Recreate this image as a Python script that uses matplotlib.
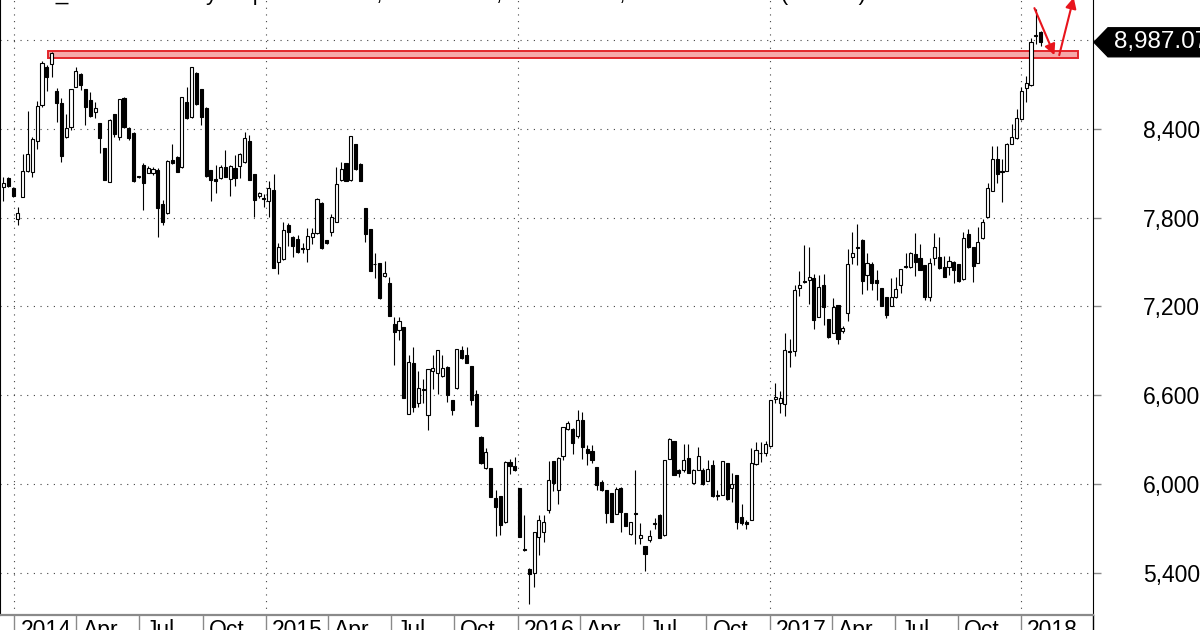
"""Weekly candlestick chart with resistance band and projection arrows."""

import matplotlib
matplotlib.use("Agg")
import matplotlib.pyplot as plt
import matplotlib.dates as mdates
from matplotlib.patches import Rectangle, Polygon
from matplotlib.transforms import ScaledTranslation, IdentityTransform
import pandas as pd

plt.rcParams["font.family"] = ["Liberation Sans", "DejaVu Sans"]

# weekly bars, first week starts 2013-12-16
first_week = "2013-12-16"

opens = [
    8005, 8071, 7999, 7789, 7942, 8118, 8107, 8321, 8562, 8817, 8840, 8657, 8578, 8344, 8411, 8686,
    8770, 8668, 8596, 8517, 8438, 8269, 8044, 8501, 8344, 8607, 8409, 8375, 8082, 8154, 8105, 8100,
    8123, 7893, 7829, 8190, 8213, 8141, 8580, 8479, 8781, 8668, 8544, 8123, 8062, 8066, 8141, 8059,
    8138, 8150, 8179, 8321, 8093, 7949, 7931, 7913, 7987, 7498, 7518, 7751, 7672, 7654, 7595, 7586,
    7672, 7694, 7897, 7649, 7706, 7773, 8055, 8168, 8055, 8299, 8163, 7863, 7724, 7489, 7491, 7406,
    7356, 7079, 7040, 7058, 6472, 6819, 6544, 6643, 6465, 6765, 6752, 6729, 6792, 6567, 6646, 6905,
    6871, 6797, 6607, 6319, 6104, 6104, 5906, 5917, 5744, 6145, 6123, 5972, 5558, 5427, 5398, 5641,
    5675, 5826, 6153, 5961, 6187, 6374, 6374, 6322, 6435, 6239, 6221, 6115, 6013, 5957, 5939, 5799,
    5975, 5803, 5664, 5801, 5637, 5580, 5619, 5729, 5792, 5652, 6171, 6291, 6097, 6092, 6178, 6006,
    6097, 6097, 6020, 6126, 5925, 5928, 6142, 5975, 6058, 5776, 5743, 5758, 6137, 6212, 6209, 6254,
    6576, 6544, 6540, 6896, 6901, 7322, 7370, 7379, 7390, 7131, 7345, 7113, 7022, 7210, 7034, 7153,
    7537, 7600, 7649, 7413, 7487, 7379, 7322, 7262, 7203, 7262, 7345, 7471, 7464, 7555, 7525, 7480,
    7266, 7525, 7537, 7469, 7469, 7503, 7487, 7383, 7690, 7600, 7496, 7661, 7805, 7981, 8200, 8116,
    8116, 8301, 8342, 8470, 8680, 8696, 9027, 9057,
]
highs = [
    8078, 8078, 8010, 7874, 8231, 8522, 8348, 8589, 8862, 8833, 8923, 8680, 8607, 8501, 8670, 8817,
    8777, 8670, 8652, 8585, 8440, 8270, 8465, 8503, 8605, 8619, 8416, 8377, 8085, 8168, 8150, 8140,
    8134, 7920, 8190, 8298, 8215, 8616, 8686, 8822, 8783, 8670, 8546, 8125, 8156, 8156, 8258, 8154,
    8224, 8235, 8382, 8359, 8095, 7976, 7960, 8048, 8093, 7627, 7773, 7762, 7674, 7683, 7627, 7728,
    7728, 7931, 7909, 7651, 7825, 8141, 8179, 8170, 8355, 8301, 8172, 7865, 7726, 7559, 7493, 7509,
    7401, 7131, 7131, 7060, 6871, 6928, 6765, 6707, 6776, 6871, 6907, 6871, 6795, 6570, 6912, 6932,
    6928, 6799, 6634, 6321, 6240, 6106, 5958, 5919, 6152, 6165, 6184, 5975, 5792, 5430, 5677, 5788,
    5788, 6153, 6155, 6180, 6387, 6426, 6376, 6498, 6487, 6261, 6261, 6117, 6029, 5959, 5941, 5979,
    5977, 5806, 5745, 6092, 5736, 5582, 5686, 5772, 5794, 6162, 6308, 6293, 6103, 6273, 6273, 6099,
    6250, 6110, 6160, 6160, 5957, 6155, 6144, 6074, 6060, 5867, 5754, 6243, 6284, 6284, 6291, 6568,
    6684, 6630, 7018, 6977, 7345, 7442, 7616, 7600, 7419, 7413, 7419, 7115, 7255, 7212, 7068, 7586,
    7706, 7758, 7654, 7564, 7503, 7446, 7325, 7264, 7395, 7397, 7453, 7564, 7566, 7694, 7622, 7482,
    7525, 7694, 7667, 7541, 7541, 7505, 7489, 7706, 7722, 7602, 7740, 7790, 8035, 8283, 8283, 8200,
    8306, 8437, 8538, 8685, 8757, 9018, 9215, 9064,
]
lows = [
    7915, 8010, 7942, 7750, 7940, 8111, 8073, 8262, 8547, 8659, 8754, 8450, 8179, 8337, 8393, 8682,
    8664, 8427, 8479, 8472, 8235, 8053, 8040, 8348, 8326, 8410, 8326, 8044, 8066, 7852, 8100, 8089,
    7667, 7750, 7827, 8163, 8109, 8134, 8470, 8475, 8562, 8427, 8077, 7915, 7969, 8059, 8075, 7947,
    8014, 8066, 8172, 8053, 7807, 7931, 7875, 7807, 7460, 7419, 7515, 7609, 7536, 7564, 7559, 7503,
    7620, 7692, 7590, 7622, 7676, 7770, 8048, 8046, 8051, 8125, 8046, 7638, 7440, 7390, 7253, 7401,
    7133, 6804, 6973, 6581, 6470, 6488, 6522, 6549, 6364, 6639, 6607, 6725, 6556, 6465, 6643, 6842,
    6815, 6533, 6389, 6136, 6098, 5911, 5647, 5654, 5733, 6066, 6086, 5640, 5546, 5186, 5303, 5517,
    5607, 5804, 5952, 5867, 6164, 6363, 6200, 6313, 6171, 6130, 6142, 5957, 5952, 5736, 5741, 5797,
    5675, 5713, 5652, 5596, 5592, 5411, 5607, 5698, 5635, 5648, 6169, 6061, 6047, 6081, 6072, 6002,
    6095, 5995, 6018, 5914, 5889, 5926, 5889, 5878, 5698, 5720, 5698, 5756, 6126, 6149, 6187, 6250,
    6544, 6477, 6459, 6793, 6865, 7271, 7356, 7216, 7045, 7126, 7074, 6989, 7018, 6946, 7018, 7104,
    7487, 7480, 7282, 7311, 7311, 7244, 7200, 7119, 7201, 7255, 7293, 7458, 7458, 7406, 7444, 7244,
    7239, 7480, 7451, 7397, 7413, 7356, 7368, 7379, 7593, 7368, 7492, 7654, 7803, 7979, 8035, 7907,
    8114, 8297, 8335, 8464, 8583, 8689, 8973, 8960,
]
closes = [
    8037, 8017, 7947, 7834, 8118, 8229, 8330, 8555, 8849, 8754, 8916, 8578, 8217, 8409, 8668, 8795,
    8698, 8551, 8488, 8540, 8337, 8055, 8461, 8366, 8601, 8411, 8337, 8050, 8073, 8032, 8134, 8127,
    7863, 7773, 8186, 8168, 8111, 8614, 8472, 8817, 8569, 8483, 8084, 8055, 8050, 8145, 8077, 8152,
    8066, 8231, 8337, 8055, 7920, 7965, 7924, 7999, 7462, 7604, 7717, 7706, 7609, 7570, 7591, 7679,
    7694, 7929, 7593, 7627, 7807, 8026, 8127, 8048, 8353, 8127, 8051, 7690, 7442, 7485, 7255, 7424,
    7135, 7025, 7104, 6583, 6826, 6517, 6646, 6634, 6774, 6781, 6905, 6781, 6601, 6499, 6910, 6849,
    6819, 6567, 6391, 6138, 6213, 5913, 5841, 5721, 6150, 6120, 6093, 5641, 5553, 5393, 5675, 5754,
    5743, 6029, 6006, 6178, 6385, 6415, 6277, 6430, 6250, 6209, 6160, 5991, 5957, 5803, 5743, 5968,
    5810, 5716, 5743, 5797, 5657, 5524, 5646, 5734, 5637, 6160, 6306, 6063, 6074, 6160, 6074, 6097,
    6187, 5997, 6103, 5916, 5921, 6153, 5900, 5997, 5743, 5736, 5731, 6142, 6232, 6207, 6268, 6566,
    6590, 6578, 6905, 6892, 7311, 7345, 7365, 7397, 7108, 7334, 7198, 6991, 7198, 6977, 7056, 7487,
    7564, 7595, 7374, 7496, 7356, 7356, 7203, 7142, 7266, 7316, 7451, 7467, 7564, 7503, 7446, 7266,
    7492, 7604, 7458, 7401, 7510, 7446, 7374, 7661, 7600, 7474, 7638, 7773, 8001, 8200, 8098, 8112,
    8301, 8346, 8477, 8658, 8712, 8989, 9039, 8987.07,
]

price_levels = [5400, 6000, 6600, 7200, 7800, 8400, 9000]
quarter_starts = pd.date_range("2014-01-01", "2018-01-01", freq="QS")
year_starts = pd.date_range("2014-01-01", "2018-01-01", freq="YS")

# resistance band and projection arrows
band_start, band_end = "2014-02-18", "2018-03-24"
band_low, band_high = 8878, 8925
arrow_down = [("2018-01-20", 9218), ("2018-02-18", 8900)]
arrow_up = [("2018-02-25", 8900), ("2018-03-18", 9290)]

title = "JSE_TOP40 Weekly   Open {:.2f}, Hi {:.2f}, Lo {:.2f}, Close {:.2f} (-0.77%)"

assert len(opens) == len(highs) == len(lows) == len(closes) == 216


def main() -> None:
    weeks = pd.date_range(first_week, periods=len(opens), freq="W-MON")
    x = mdates.date2num(weeks)

    fig = plt.figure(figsize=(12, 6.3), dpi=100)
    ax = fig.add_axes([0.0, 15 / 630, 1093 / 1200, 615 / 630])

    ax.set_xlim(mdates.date2num(pd.Timestamp("2013-12-11")), mdates.date2num(pd.Timestamp("2018-04-15")))
    ax.set_ylim(5113, 9273)

    # dotted grid
    for lvl in price_levels:
        ax.axhline(lvl, color="#444444", lw=0.8, ls=(0, (1, 5)), zorder=1)
    for ys in year_starts:
        ax.axvline(mdates.date2num(ys), color="#444444", lw=0.8, ls=(0, (1, 5)), zorder=1)

    # resistance band
    b0 = mdates.date2num(pd.Timestamp(band_start))
    b1 = mdates.date2num(pd.Timestamp(band_end))
    ax.add_patch(Rectangle((b0, band_low), b1 - b0, band_high - band_low,
                           facecolor="#f6a9a9", edgecolor="#e3262b", lw=1.4, zorder=2))

    # candles
    body_w = 4.5
    ax.vlines(x, lows, highs, color="black", lw=0.8, zorder=3)
    for xi, o, c in zip(x, opens, closes):
        up = c >= o
        lo, hi = min(o, c), max(o, c)
        ax.add_patch(Rectangle((xi - body_w / 2, lo), body_w, max(hi - lo, 1),
                               facecolor="white" if up else "black",
                               edgecolor="black", lw=0.8, zorder=4))

    # arrows
    for (d0, p0), (d1, p1) in (arrow_down, arrow_up):
        ax.annotate("", xy=(mdates.date2num(pd.Timestamp(d1)), p1),
                    xytext=(mdates.date2num(pd.Timestamp(d0)), p0),
                    arrowprops=dict(arrowstyle="-|>", color="#e8141c", lw=1.5,
                                    mutation_scale=16, shrinkA=0, shrinkB=0),
                    annotation_clip=False, zorder=5)

    # spines
    ax.spines["top"].set_visible(False)
    ax.spines["left"].set_color("black")
    ax.spines["right"].set_color("black")
    ax.spines["bottom"].set_color("#8a8a8a")
    ax.spines["bottom"].set_linewidth(1.6)

    # x axis labels between separators
    ax.set_xticks(mdates.date2num(quarter_starts))
    ax.set_xticklabels([str(d.year) if d.month == 1 else d.strftime("%b") for d in quarter_starts])
    ax.tick_params(axis="x", length=0, pad=3, labelsize=16.5)
    shift = ScaledTranslation(6 / 100, 0, fig.dpi_scale_trans)
    for lbl in ax.get_xticklabels():
        lbl.set_horizontalalignment("left")
        lbl.set_transform(lbl.get_transform() + shift)
    ax.vlines(mdates.date2num(quarter_starts), -0.05, 0, transform=ax.get_xaxis_transform(),
              colors="#8a8a8a", lw=1.0, clip_on=False)
    ax.plot([1, 1], [-0.05, 0], transform=ax.transAxes, color="black", lw=1.0, clip_on=False)

    # y axis on the right
    ax.yaxis.tick_right()
    ax.set_yticks(price_levels)
    ax.set_yticklabels([f"{v:,}" if v < 9000 else "" for v in price_levels])
    ax.tick_params(axis="y", length=6, width=1, color="#8a8a8a", pad=30, labelsize=16.5)

    # last price tag
    last = closes[-1]
    yd = ax.transData.transform((x[-1], last))[1]
    xr = ax.transAxes.transform((1, 0))[0]
    half = 14.5
    tag = Polygon([(xr + 1, yd), (xr + 15, yd + half), (xr + 130, yd + half),
                   (xr + 130, yd - half), (xr + 15, yd - half)],
                  closed=True, facecolor="black", edgecolor="black",
                  transform=IdentityTransform(), zorder=10)
    fig.add_artist(tag)
    fig.text(xr + 21, yd, f"{last:,.2f}", color="white", fontsize=17.5, va="center", ha="left",
             transform=IdentityTransform(), zorder=11)

    # title, mostly cropped off the top
    fig.text(0.0125, 1.0, title.format(opens[-1], highs[-1], lows[-1], last),
             fontsize=16, va="baseline", ha="left")

    fig.savefig("out.png", dpi=100)
    plt.close(fig)


if __name__ == "__main__":
    main()
